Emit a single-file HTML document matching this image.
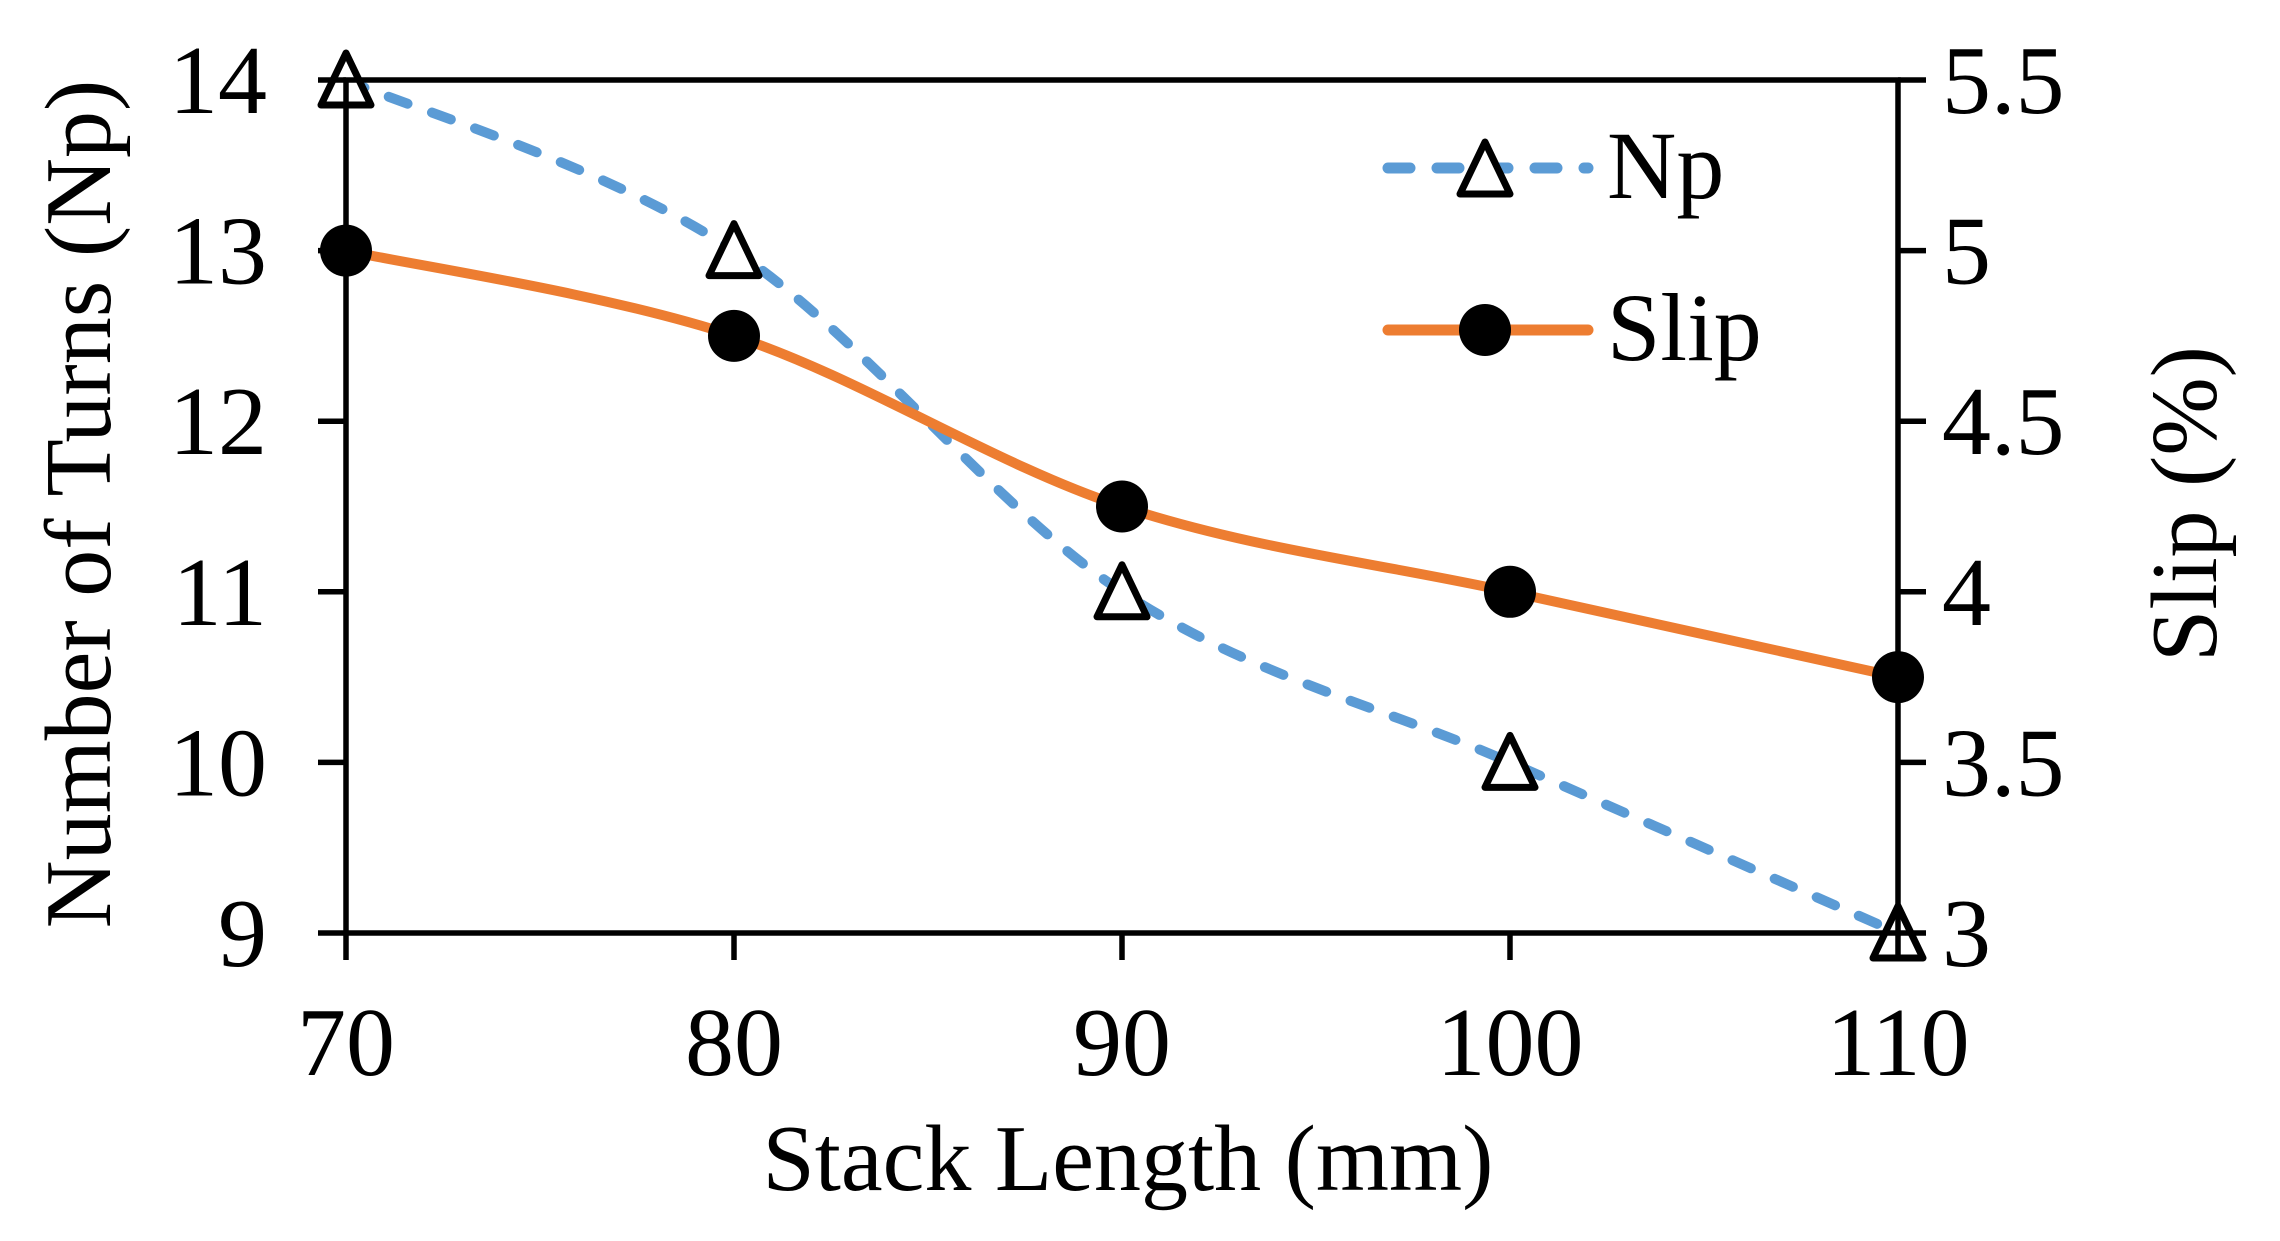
<!DOCTYPE html>
<html><head><meta charset="utf-8"><style>
html,body{margin:0;padding:0;background:#fff;}
svg text{font-family:"Liberation Serif",serif;fill:#000;}
</style></head><body>
<svg id="chart" width="2280" height="1236" viewBox="0 0 2280 1236" xmlns="http://www.w3.org/2000/svg">
<g id="grid"></g>
<g id="series"></g>
<g id="axes"></g>
<g id="legend">
  <line x1="1388" y1="168" x2="1588" y2="168" stroke="#5B9BD5" stroke-width="11" stroke-linecap="round" stroke-dasharray="22 27"/>
  <polygon points="1485,142 1510,194 1460,194" fill="#fff" stroke="#000" stroke-width="7" stroke-linejoin="round"/>
  <text x="1607" y="198" font-size="96">Np</text>
  <line x1="1388" y1="330" x2="1588" y2="330" stroke="#ED7D31" stroke-width="11" stroke-linecap="round"/>
  <circle cx="1485" cy="330" r="26" fill="#000"/>
  <text x="1607" y="360" font-size="96">Slip</text>
</g>
</svg>
<script>
const categories=[70,80,90,100,110];
const npValues=[14,13,11,10,9];
const slipValues=[5,4.75,4.25,4,3.75];
const xTicks=[70,80,90,100,110];
const yLeftTicks=[9,10,11,12,13,14];
const yRightTicks=["3","3.5","4","4.5","5","5.5"];

const L=346,R=1898,T=80,B=933;
const xs=v=>L+(v-70)/40*(R-L);
const yl=v=>B-(v-9)/5*(B-T);
const yr=v=>B-(v-3)/2.5*(B-T);
const NS="http://www.w3.org/2000/svg";
function mk(tag,attrs,parent){const e=document.createElementNS(NS,tag);for(const k in attrs)e.setAttribute(k,attrs[k]);parent.appendChild(e);return e;}
const axes=document.getElementById('axes'),series=document.getElementById('series');

function smooth(pts){let d=`M${pts[0][0]},${pts[0][1]}`;
 for(let i=0;i<pts.length-1;i++){const p0=pts[i-1]||pts[i],p1=pts[i],p2=pts[i+1],p3=pts[i+2]||p2;
 const t=6;d+=` C${p1[0]+(p2[0]-p0[0])/t},${p1[1]+(p2[1]-p0[1])/t} ${p2[0]-(p3[0]-p1[0])/t},${p2[1]-(p3[1]-p1[1])/t} ${p2[0]},${p2[1]}`;}
 return d;}

const npPts=categories.map((c,i)=>[xs(c),yl(npValues[i])]);
const slipPts=categories.map((c,i)=>[xs(c),yr(slipValues[i])]);
let p=mk('path',{d:smooth(npPts),fill:'none',stroke:'#5B9BD5','stroke-width':10,'stroke-dasharray':'20 26','stroke-linecap':'round'},series);

p=mk('path',{d:smooth(slipPts),fill:'none',stroke:'#ED7D31','stroke-width':10},series);


// axes
let a=mk('rect',{x:L,y:T,width:R-L,height:B-T,fill:'none',stroke:'#000','stroke-width':5.5},axes);

xTicks.forEach(v=>{const x=xs(v);
 let t=mk('line',{x1:x,y1:B,x2:x,y2:B+27,stroke:'#000','stroke-width':5.5},axes);
 
 t=mk('text',{x:x,y:1075,'font-size':98,'text-anchor':'middle'},axes);t.textContent=v;
 });
yLeftTicks.forEach(v=>{const y=yl(v);
 let t=mk('line',{x1:L-28,y1:y,x2:L,y2:y,stroke:'#000','stroke-width':5.5},axes);
 
 t=mk('text',{x:267,y:y+33,'font-size':98,'text-anchor':'end'},axes);t.textContent=v;
 });
yRightTicks.forEach(s=>{const y=yr(parseFloat(s));
 let t=mk('line',{x1:R,y1:y,x2:R+28,y2:y,stroke:'#000','stroke-width':5.5},axes);
 
 t=mk('text',{x:1942,y:y+33,'font-size':98},axes);t.textContent=s;
 });

// markers
npPts.forEach(([x,y])=>{const m=mk('polygon',{points:`${x},${y-27} ${x+25},${y+25} ${x-25},${y+25}`,fill:'#fff',stroke:'#000','stroke-width':7,'stroke-linejoin':'round'},series);
 });
slipPts.forEach(([x,y])=>{const m=mk('circle',{cx:x,cy:y,r:26,fill:'#000'},series);
 });

// titles
let tt=mk('text',{x:1128,y:1190,'font-size':94,'text-anchor':'middle'},axes);tt.textContent='Stack Length (mm)';

tt=mk('text',{x:0,y:0,'font-size':94,'text-anchor':'middle',transform:'translate(110,504) rotate(-90)'},axes);tt.textContent='Number of Turns (Np)';

tt=mk('text',{x:0,y:0,'font-size':94,'text-anchor':'middle',transform:'translate(2216,504) rotate(-90)'},axes);tt.textContent='Slip (%)';

</script>
</body></html>
